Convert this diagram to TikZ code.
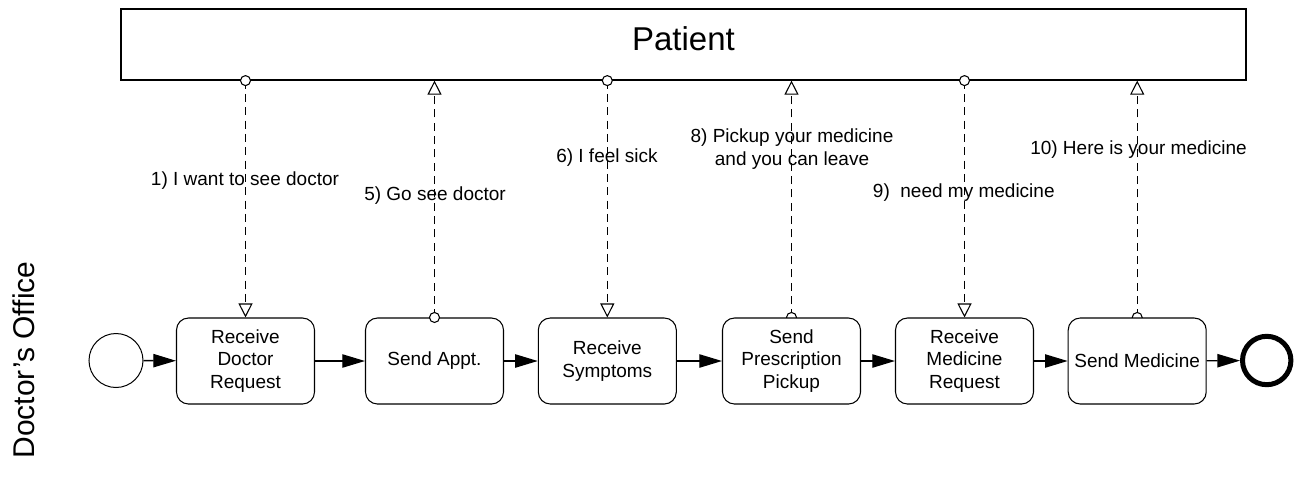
\documentclass[tikz,border=0pt]{standalone}
\usepackage{fontspec}
\setmainfont{Liberation Sans}
\usetikzlibrary{arrows.meta,backgrounds}
\begin{document}
\begin{tikzpicture}[x=0.75pt,y=-0.75pt,
  task/.style={draw, rounded corners=9pt, fill=white, minimum width=103.5pt, minimum height=64.5pt, inner sep=0pt, align=center, font=\fontsize{14.25pt}{17.1pt}\selectfont, line width=0.8pt},
  seq/.style={line width=1pt, -{Triangle[length=17pt,width=10pt]}},
  msg/.style={line width=0.8pt, dash pattern=on 6pt off 4pt, -{Triangle[open,length=10.5pt,width=10.5pt,fill=white]}},
  msgdot/.style={draw, fill=white, line width=0.8pt},
  lbl/.style={anchor=base west, inner sep=0pt, font=\fontsize{14.25pt}{17.1pt}\selectfont},
  lblc/.style={anchor=base, inner sep=0pt, font=\fontsize{14.25pt}{17.1pt}\selectfont}
]
\useasboundingbox (0,0) rectangle (1299,476);
% pool
\node[draw, line width=0.9pt, minimum width=843.75pt, minimum height=53.25pt, inner sep=0pt] (pool) at (683.5,44.5) {};
\node[inner sep=0pt, font=\fontsize{24.75pt}{29pt}\selectfont] (patient) at (683.5,38.5) {Patient};
% lane label
\node[rotate=90, anchor=base, inner sep=0pt, font=\fontsize{22.5pt}{27pt}\selectfont] (office) at (34.3,360) {Doctor’s Office};
% events and tasks
\node[circle, draw, line width=0.75pt, minimum size=40.5pt, inner sep=0pt] (start) at (116,360.5) {};
\node[task] (t1) at (245.5,361) {Receive\\Doctor\\Request};
\node[task] (t2) at (434.5,361) {Send Appt.};
\node[task] (t3) at (607.3,361) {Receive\\Symptoms};
\node[task] (t4) at (791.5,361) {Send\\Prescription\\Pickup};
\node[task] (t5) at (964.5,361) {Receive\\Medicine\\Request};
\node[task] (t6) at (1137.2,361) {Send Medicine};
\node[circle, draw, line width=3.75pt, minimum size=36.3pt, inner sep=0pt] (end) at (1266.7,360.5) {};
% sequence flows
\draw[seq] (start) -- (t1);
\draw[seq] (t1) -- (t2);
\draw[seq] (t2) -- (t3);
\draw[seq] (t3) -- (t4);
\draw[seq] (t4) -- (t5);
\draw[seq] (t5) -- (t6);
\draw[seq] (t6) -- (end);
% message flows
\begin{scope}[on background layer]
\draw[msg] (t1.north |- pool.south) -- (t1.north);
\draw[msg] (t2.north) -- (t2.north |- pool.south);
\draw[msg] (t3.north |- pool.south) -- (t3.north);
\draw[msg] (t4.north) -- (t4.north |- pool.south);
\draw[msg] (t5.north |- pool.south) -- (t5.north);
\draw[msg] (t6.north) -- (t6.north |- pool.south);
\draw[msgdot] (t4.north) circle[radius=3.75pt];
\draw[msgdot] (t6.north) circle[radius=3.75pt];
\end{scope}
\draw[msgdot] (t1.north |- pool.south) circle[radius=3.75pt];
\draw[msgdot] (t3.north |- pool.south) circle[radius=3.75pt];
\draw[msgdot] (t5.north |- pool.south) circle[radius=3.75pt];
\draw[msgdot] (t2.north) circle[radius=3.75pt];
% labels
\node[lbl] (l1) at (150.7,185.7) {1) I want to see doctor};
\node[lbl] (l5) at (364,200) {5) Go see doctor};
\node[lbl] (l6) at (556,162.7) {6) I feel sick};
\node[lblc] (l8a) at (792,142.7) {8) Pickup your medicine};
\node[lblc] (l8b) at (792,165) {and you can leave};
\node[lbl] (l9) at (872.7,197.3) {9)\ \ need my medicine};
\node[lbl] (l10) at (1030,154.3) {10) Here is your medicine};
\end{tikzpicture}
\end{document}
